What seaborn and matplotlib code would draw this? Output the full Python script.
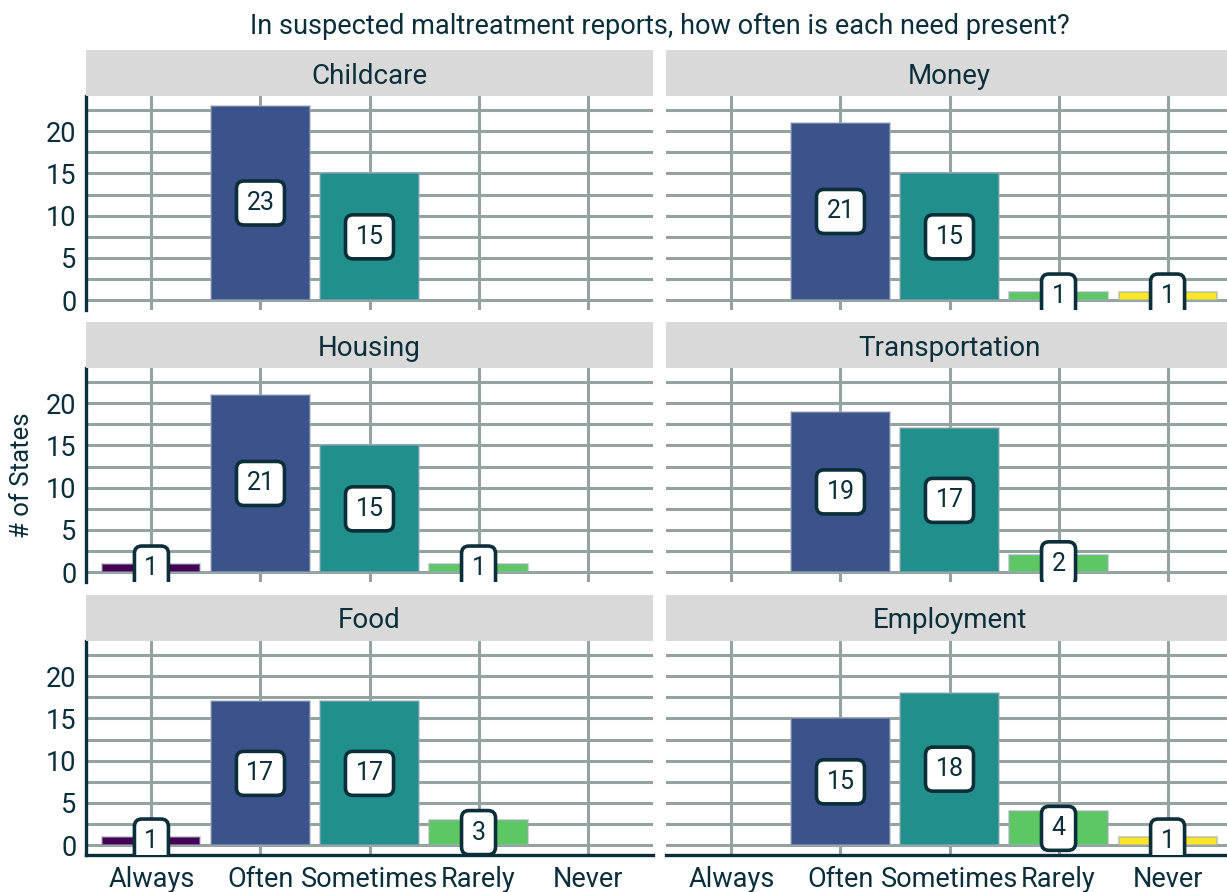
import numpy as np
import pandas as pd
import matplotlib
matplotlib.use("Agg")
import matplotlib.pyplot as plt
from matplotlib.ticker import MultipleLocator
import seaborn as sns

# ---- data ----
needs = ["Childcare", "Money", "Housing", "Transportation", "Food", "Employment"]
freq = ["Always", "Often", "Sometimes", "Rarely", "Never"]
childcare = [0, 23, 15, 0, 0]
money = [0, 21, 15, 1, 1]
housing = [1, 21, 15, 1, 0]
transportation = [0, 19, 17, 2, 0]
food = [1, 17, 17, 3, 0]
employment = [0, 15, 18, 4, 1]

values = [childcare, money, housing, transportation, food, employment]
rows = []
for need, vals in zip(needs, values):
    for f, v in zip(freq, vals):
        rows.append({"need": need, "freq": f, "n": v})
df = pd.DataFrame(rows)

palette = dict(zip(freq, ["#440154", "#3B528B", "#21908C", "#5DC863", "#FDE725"]))
DARK = "#0b2f3a"
GRID = "#95a3a0"
STRIP = "#d9d9d9"

sns.set_theme(style="white")
plt.rcParams["font.family"] = ["Roboto", "DejaVu Sans"]
plt.rcParams["text.color"] = DARK
plt.rcParams["axes.labelcolor"] = DARK
plt.rcParams["xtick.color"] = DARK
plt.rcParams["ytick.color"] = DARK

W, H = 1227, 892
fig = plt.figure(figsize=(W / 100, H / 100), dpi=100)

col_x = [86, 666]
panel_w = 567
panel_tops = [96, 368, 641]
panel_h = 214
strip_h = 46


def fig_rect(x, y_top, w, h):
    return [x / W, 1 - (y_top + h) / H, w / W, h / H]


for i, need in enumerate(needs):
    r, c = divmod(i, 2)
    x0 = col_x[c]
    top = panel_tops[r]
    ax = fig.add_axes(fig_rect(x0, top, panel_w, panel_h))
    sub = df[df["need"] == need]
    sns.barplot(data=sub, x="freq", y="n", hue="freq", order=freq,
                hue_order=freq, palette=palette, width=0.9, dodge=False,
                saturation=1, legend=False, ax=ax,
                edgecolor=(0.62, 0.67, 0.72, 0.6), linewidth=1.3, zorder=2)
    for p in ax.patches:
        if p.get_height() == 0:
            p.set_visible(False)
    ax.set_xlim(-0.6, 4.6)
    ax.set_ylim(-1.15, 24.15)
    ax.yaxis.set_major_locator(MultipleLocator(5))
    ax.yaxis.set_minor_locator(MultipleLocator(2.5))
    ax.grid(True, which="both", axis="y", color=GRID, lw=2.2, zorder=0)
    ax.grid(True, which="major", axis="x", color=GRID, lw=2.2, zorder=0)
    ax.set_axisbelow(True)
    ax.set_xlabel("")
    ax.set_ylabel("")
    for s in ax.spines.values():
        s.set_visible(False)

    # value labels
    for xi, (f, v) in enumerate(zip(freq, sub["n"])):
        if v > 0:
            ax.text(xi, v / 2, str(v), ha="center", va="center", fontsize=18,
                    color=DARK, zorder=5, clip_on=True,
                    bbox=dict(boxstyle="round,pad=0.4,rounding_size=0.3",
                              fc="white", ec=DARK, lw=2.6))

    if c == 0:
        ax.spines["left"].set_visible(True)
        ax.spines["left"].set_color(DARK)
        ax.spines["left"].set_linewidth(2.4)
        ax.tick_params(axis="y", which="major", length=5, width=2.2,
                       labelsize=19.5, pad=2, colors=DARK)
        ax.tick_params(axis="y", which="minor", length=0)
    else:
        ax.tick_params(axis="y", which="both", length=0, labelleft=False)

    if r == 2:
        ax.spines["bottom"].set_visible(True)
        ax.spines["bottom"].set_color(DARK)
        ax.spines["bottom"].set_linewidth(2.4)
        ax.tick_params(axis="x", length=5, width=2.2, labelsize=19.5, pad=3,
                       colors=DARK)
    else:
        ax.tick_params(axis="x", length=0, labelbottom=False)

    # facet strip
    sax = fig.add_axes(fig_rect(x0, top - strip_h, panel_w, strip_h))
    sax.set_facecolor(STRIP)
    sax.set_xticks([])
    sax.set_yticks([])
    for s in sax.spines.values():
        s.set_visible(False)
    sax.text(0.5, 0.5, need, ha="center", va="center_baseline", fontsize=20,
             color=DARK, transform=sax.transAxes)

fig.text(659.5 / W, 1 - 23 / H,
         "In suspected maltreatment reports, how often is each need present?",
         ha="center", va="center_baseline", fontsize=19.5, color=DARK)
fig.text(22 / W, 1 - 475.5 / H, "# of States", rotation=90, ha="center",
         va="center", fontsize=18.5, color=DARK)

fig.savefig("out.png", dpi=100)
